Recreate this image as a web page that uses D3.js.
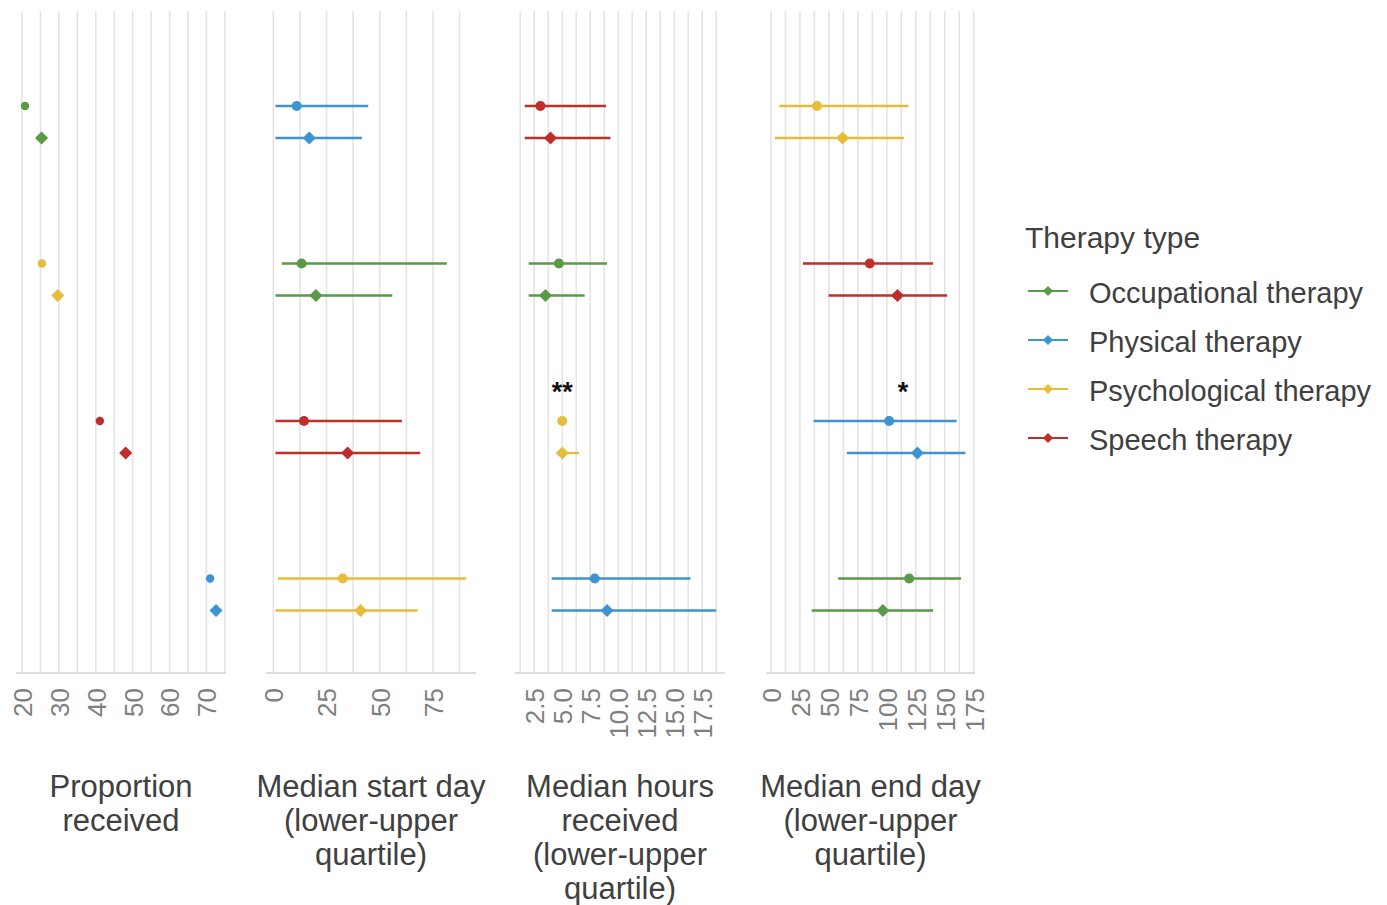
<!DOCTYPE html>
<html>
<head>
<meta charset="utf-8">
<script src="https://cdn.jsdelivr.net/npm/d3@7"></script>
<style>
  html, body { margin: 0; padding: 0; background: #ffffff; }
  svg { display: block; font-family: "Liberation Sans", Arial, sans-serif; }
</style>
</head>
<body>
<script>
// ---------------- DATA ----------------
const therapies = ["Occupational therapy", "Physical therapy", "Psychological therapy", "Speech therapy"];
const therapyColors = ["#5a9a46", "#3d94d0", "#e4bd3b", "#be2e2b"];
const cohorts = ["first", "second"]; // circle, diamond

// Proportion received (%), per therapy (order of `therapies`)
const proportionFirst  = [20.8, 71.0, 25.4, 41.1];
const proportionSecond = [25.3, 72.6, 29.7, 48.1];

// Median start day [median, lower quartile, upper quartile]
const startFirst  = [[13.3, 4, 81.5], [11.0, 1, 44.6], [32.6, 2.2, 90.6], [14.4, 1, 60.4]];
const startSecond = [[20.0, 1, 55.9], [16.9, 1, 41.6], [41.0, 1, 67.8], [34.9, 1, 69.0]];

// Median hours received [median, lower, upper]
const hoursFirst  = [[4.7, 2.0, 9.0], [7.9, 4.05, 16.45], [5.0, 5.0, 5.0], [3.05, 1.65, 8.9]];
const hoursSecond = [[3.5, 2.0, 7.0], [9.0, 4.05, 18.75], [5.0, 5.0, 6.5], [3.95, 1.65, 9.3]];

// Median end day [median, lower, upper]
const endFirst  = [[119.3, 58.0, 164.0], [102.0, 36.8, 160.3], [39.7, 7.2, 118.7], [85.3, 27.6, 139.9]];
const endSecond = [[96.6, 35.1, 139.9], [126.4, 65.5, 167.8], [61.8, 3.4, 114.9], [109.2, 49.7, 152.0]];

// Row order (top to bottom) in each panel
const orderProportion = ["Occupational therapy", "Psychological therapy", "Speech therapy", "Physical therapy"];
const orderStart      = ["Physical therapy", "Occupational therapy", "Speech therapy", "Psychological therapy"];
const orderHours      = ["Speech therapy", "Occupational therapy", "Psychological therapy", "Physical therapy"];
const orderEnd        = ["Psychological therapy", "Speech therapy", "Physical therapy", "Occupational therapy"];

// Tick labels
const ticksProportion = [20, 30, 40, 50, 60, 70];
const ticksStart      = [0, 25, 50, 75];
const ticksHours      = [2.5, 5.0, 7.5, 10.0, 12.5, 15.0, 17.5];
const ticksEnd        = [0, 25, 50, 75, 100, 125, 150, 175];

// Panel titles
const titleProportion = ["Proportion", "received"];
const titleStart      = ["Median start day", "(lower-upper", "quartile)"];
const titleHours      = ["Median hours", "received", "(lower-upper", "quartile)"];
const titleEnd        = ["Median end day", "(lower-upper", "quartile)"];

// Significance annotations
const annotations = [
  { panel: 2, therapy: "Psychological therapy", value: 5.0, label: "**" },
  { panel: 3, therapy: "Physical therapy", value: 114, label: "*" }
];

const legendTitle = "Therapy type";

// ---------------- LAYOUT ----------------
const W = 1387, H = 905;
const plotTop = 11, plotBottom = 673;
const svg = d3.select("body").append("svg").attr("width", W).attr("height", H);
const color = d3.scaleOrdinal().domain(therapies).range(therapyColors);

function rowsFrom(a, b) {
  return therapies.flatMap((t, i) => [
    { therapy: t, cohort: "first",  v: Array.isArray(a[i]) ? a[i] : [a[i]] },
    { therapy: t, cohort: "second", v: Array.isArray(b[i]) ? b[i] : [b[i]] }
  ]);
}

const panels = [
  { range: [16, 226],  domain: [18.37, 75.3], grid: d3.range(20, 75.01, 5),    ticks: ticksProportion, fmt: d3.format("d"),
    rows: rowsFrom(proportionFirst, proportionSecond), order: orderProportion, title: titleProportion, r: 4.2 },
  { range: [266, 476], domain: [-3.43, 95.2], grid: d3.range(0, 87.51, 12.5),  ticks: ticksStart, fmt: d3.format("d"),
    rows: rowsFrom(startFirst, startSecond), order: orderStart, title: titleStart, r: 5 },
  { range: [515, 725], domain: [0.78, 19.53], grid: d3.range(1.25, 18.76, 1.25), ticks: ticksHours, fmt: d3.format(".1f"),
    rows: rowsFrom(hoursFirst, hoursSecond), order: orderHours, title: titleHours, r: 5 },
  { range: [766, 975], domain: [-4.3, 176.1], grid: d3.range(0, 175.01, 12.5), ticks: ticksEnd, fmt: d3.format("d"),
    rows: rowsFrom(endFirst, endSecond), order: orderEnd, title: titleEnd, r: 5 }
];

const dodge = d3.scalePoint().domain(cohorts).range([-16, 16]);
const diamond = d3.symbol().type(d3.symbolSquare).size(86);

panels.forEach((p, pi) => {
  const x = d3.scaleLinear().domain(p.domain).range(p.range);
  const y = d3.scalePoint().domain(p.order).range([122, 594.5]);
  p.x = x; p.y = y;
  const g = svg.append("g");

  // gridlines
  g.selectAll("line.grid").data(p.grid).join("line")
    .attr("x1", d => x(d)).attr("x2", d => x(d))
    .attr("y1", plotTop).attr("y2", plotBottom)
    .attr("stroke", "#e4e4e4").attr("stroke-width", 1.6);

  // bottom axis line
  g.append("line")
    .attr("x1", p.range[0]).attr("x2", p.range[1])
    .attr("y1", plotBottom).attr("y2", plotBottom)
    .attr("stroke", "#d2d2d2").attr("stroke-width", 1.6);

  // tick labels via axis
  const ax = g.append("g").attr("transform", `translate(0,${plotBottom})`)
    .call(d3.axisBottom(x).tickValues(p.ticks).tickFormat(p.fmt).tickSize(0));
  ax.select(".domain").remove();
  ax.selectAll("text")
    .attr("transform", "rotate(-90)")
    .attr("x", -15).attr("y", 0).attr("dy", "0.36em")
    .attr("text-anchor", "end")
    .attr("fill", "#7f7f7f")
    .style("font-size", "26px")
    .style("font-family", '"Liberation Sans", Arial, sans-serif');

  // error bars
  if (p.rows[0].v.length > 1) {
    g.selectAll("line.err").data(p.rows).join("line")
      .attr("x1", d => x(d.v[1])).attr("x2", d => x(d.v[2]))
      .attr("y1", d => y(d.therapy) + dodge(d.cohort))
      .attr("y2", d => y(d.therapy) + dodge(d.cohort))
      .attr("stroke", d => color(d.therapy)).attr("stroke-width", 2.3);
  }

  // circles (first cohort)
  g.selectAll("circle.pt").data(p.rows.filter(d => d.cohort === "first")).join("circle")
    .attr("cx", d => x(d.v[0])).attr("cy", d => y(d.therapy) + dodge(d.cohort))
    .attr("r", p.r).attr("fill", d => color(d.therapy));

  // diamonds (second cohort)
  g.selectAll("path.pt").data(p.rows.filter(d => d.cohort === "second")).join("path")
    .attr("d", diamond)
    .attr("transform", d => `translate(${x(d.v[0])},${y(d.therapy) + dodge(d.cohort)}) rotate(45)`)
    .attr("fill", d => color(d.therapy));

  // title
  const cx = (p.range[0] + p.range[1]) / 2;
  g.append("text").attr("text-anchor", "middle").attr("fill", "#404040")
    .style("font-size", "31px")
    .selectAll("tspan").data(p.title).join("tspan")
    .attr("x", cx).attr("y", (d, i) => 797 + i * 34).text(d => d);
});

// annotations
annotations.forEach(a => {
  const p = panels[a.panel];
  svg.append("text")
    .attr("x", p.x(a.value)).attr("y", p.y(a.therapy) - 36)
    .attr("text-anchor", "middle").attr("fill", "#111")
    .style("font-size", "27px").style("font-weight", "bold")
    .text(a.label);
});

// legend
const lg = svg.append("g");
lg.append("text").attr("x", 1025).attr("y", 248).attr("fill", "#404040")
  .style("font-size", "30px").text(legendTitle);
const legendDiamond = d3.symbol().type(d3.symbolSquare).size(52);
const items = lg.selectAll("g.item").data(therapies).join("g")
  .attr("transform", (d, i) => `translate(0,${291 + i * 49})`);
items.append("line").attr("x1", 1028).attr("x2", 1068).attr("y1", 0).attr("y2", 0)
  .attr("stroke", d => color(d)).attr("stroke-width", 2);
items.append("path").attr("d", legendDiamond)
  .attr("transform", "translate(1048,0) rotate(45)")
  .attr("fill", d => color(d));
items.append("text").attr("x", 1089).attr("y", 12).attr("fill", "#404040")
  .style("font-size", "29px").text(d => d);
</script>
</body>
</html>
